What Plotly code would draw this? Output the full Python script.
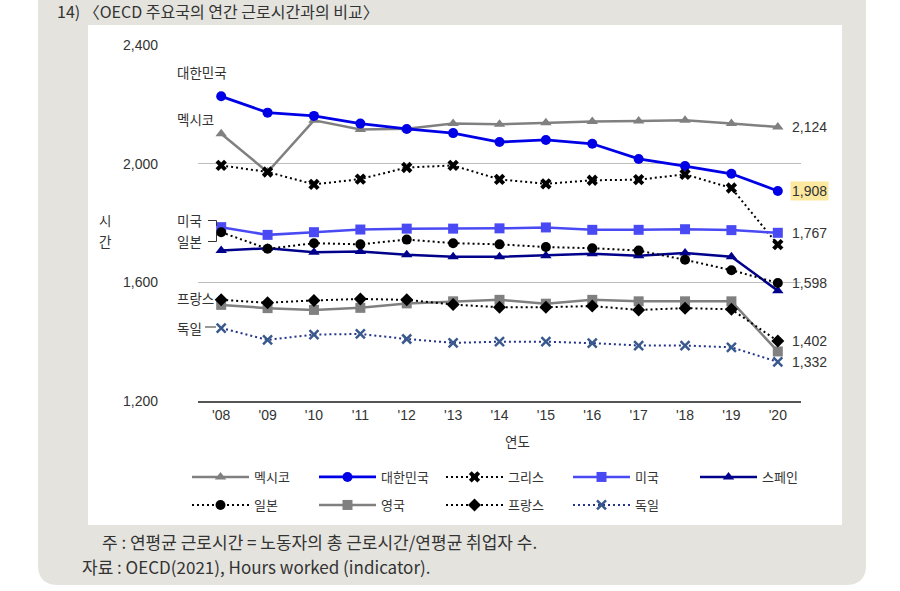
import plotly.graph_objects as go

# ---------------- data ----------------
years = ["'08", "'09", "'10", "'11", "'12", "'13", "'14", "'15", "'16", "'17", "'18", "'19", "'20"]
mexico = [2101, 1972, 2146, 2115, 2118, 2135, 2133, 2138, 2142, 2144, 2146, 2135, 2124]
korea = [2227, 2172, 2161, 2135, 2117, 2103, 2073, 2080, 2067, 2016, 1992, 1966, 1908]
greece = [1994, 1972, 1930, 1948, 1987, 1994, 1947, 1932, 1944, 1946, 1964, 1918, 1727]
usa = [1786, 1760, 1769, 1778, 1781, 1781, 1782, 1785, 1777, 1777, 1779, 1776, 1767]
spain = [1707, 1715, 1701, 1704, 1693, 1686, 1686, 1690, 1696, 1690, 1699, 1686, 1572]
japan = [1769, 1713, 1732, 1728, 1744, 1732, 1728, 1719, 1715, 1707, 1676, 1641, 1598]
uk = [1524, 1513, 1507, 1514, 1529, 1536, 1541, 1528, 1541, 1536, 1536, 1536, 1367]
france = [1541, 1531, 1539, 1544, 1541, 1525, 1516, 1516, 1520, 1507, 1513, 1509, 1402]
germany = [1446, 1406, 1424, 1426, 1409, 1396, 1400, 1400, 1395, 1387, 1387, 1381, 1332]

y_tickvals = [1200, 1600, 2000, 2400]
y_ticktext = ["1,200", "1,600", "2,000", "2,400"]

title_text = "14) 〈OECD 주요국의 연간 근로시간과의 비교〉"
x_title = "연도"
y_title_lines = ["시", "간"]
note_text = "주 : 연평균 근로시간 = 노동자의 총 근로시간/연평균 취업자 수."
source_text = "자료 : OECD(2021), Hours worked (indicator)."

# ---------------- layout geometry (pixels of the screenshot) ----------------
OFF = 0  # body margin is removed by the post script
W, H = 900, 591
PLOT_L, PLOT_R, PLOT_T, PLOT_B = 198, 801, 45, 401
L = PLOT_L - OFF
T = PLOT_T - OFF
R = W - (PLOT_R - OFF)
B = H - (PLOT_B - OFF)
PW, PH = W - L - R, H - T - B

def px(x):
    return (x - OFF - L) / PW

def py(y):
    return (H - B - (y - OFF)) / PH

KFONT = "Noto Sans CJK KR, Noto Sans, sans-serif"
NFONT = "Liberation Sans, Arial, sans-serif"
TXT = "#333333"

series = [
    # name, values, color, width, dash, symbol, msize, legend
    ("멕시코", mexico, "#808080", 2.5, "solid", "triangle-up", 10, "legend"),
    ("대한민국", korea, "#0000e6", 2.8, "solid", "circle", 10, "legend"),
    ("그리스", greece, "#000000", 2, "2px,3px", "x", 10, "legend"),
    ("미국", usa, "#4a4af5", 2.5, "solid", "square", 10, "legend"),
    ("스페인", spain, "#00008b", 2.5, "solid", "triangle-up", 10, "legend"),
    ("일본", japan, "#000000", 2, "2px,3px", "circle", 10, "legend2"),
    ("영국", uk, "#808080", 2.5, "solid", "square", 10, "legend2"),
    ("프랑스", france, "#000000", 2, "2px,3px", "diamond", 10, "legend2"),
    ("독일", germany, "#24348a", 2, "2px,3px", "x-thin-open", 9, "legend2"),
]

fig = go.Figure()
for name, vals, color, lw, dash, sym, ms, lg in series:
    if sym == "x-thin-open":
        marker = dict(symbol=sym, size=ms, color="#3a5a8e", line=dict(width=2.5, color="#3a5a8e"))
    else:
        marker = dict(symbol=sym, size=ms, color=color, line=dict(width=0))
    fig.add_trace(go.Scatter(
        x=years, y=vals, name=name, mode="lines+markers",
        line=dict(color=color, width=lw, dash=dash),
        marker=marker, legend=lg, hoverinfo="skip",
    ))

# ---------------- annotations ----------------
annotations = []
left_labels = [("대한민국", korea, 24), ("멕시코", mexico, 15), ("미국", usa, 7),
               ("일본", japan, -9), ("프랑스", france, 2), ("독일", germany, 0)]
for text, vals, ys in left_labels:
    annotations.append(dict(text=text, x=px(175), xref="paper", xanchor="left",
                            y=vals[0], yref="y", yanchor="middle", yshift=ys,
                            showarrow=False, font=dict(family=KFONT, size=13.5, color=TXT)))

right_labels = [(mexico, None), (korea, "#fde8a0"), (usa, None), (japan, None),
                (france, None), (germany, None)]
for vals, bg in right_labels:
    a = dict(text=f"{vals[-1]:,}", x=years[-1], xref="x", xanchor="left", xshift=12,
             y=vals[-1], yref="y", yanchor="middle", showarrow=False,
             font=dict(family=NFONT, size=14, color=TXT))
    if bg:
        a.update(bgcolor=bg, borderpad=1)
    annotations.append(a)

for txt, yy in zip(y_title_lines, [220, 241]):
    annotations.append(dict(text=txt, x=px(105), y=py(yy), xref="paper", yref="paper",
                            xanchor="center", yanchor="middle", showarrow=False,
                            font=dict(family=KFONT, size=13.5, color=TXT)))

annotations += [
    dict(text=title_text, x=px(55), y=py(11), xref="paper", yref="paper", xanchor="left",
         yanchor="middle", showarrow=False, font=dict(family=KFONT, size=16, color=TXT)),
    dict(text=x_title, x=px(517), y=py(441), xref="paper", yref="paper", xanchor="center",
         yanchor="middle", showarrow=False, font=dict(family=KFONT, size=13.5, color=TXT)),
    dict(text=note_text, x=px(100), y=py(541), xref="paper", yref="paper", xanchor="left",
         yanchor="middle", showarrow=False, font=dict(family=KFONT, size=17, color=TXT)),
    dict(text=source_text, x=px(80), y=py(566), xref="paper", yref="paper", xanchor="left",
         yanchor="middle", showarrow=False, font=dict(family=KFONT, size=17, color=TXT)),
]

# ---------------- background shapes ----------------
def rounded_bottom_rect(x0, y0, x1, y1, r):
    return ("M {a},{b} L {c},{b} L {c},{d} Q {c},{e} {f},{e} L {g},{e} Q {a},{e} {a},{d} Z"
            .format(a=px(x0), b=py(y0), c=px(x1), d=py(y1 - r), e=py(y1),
                    f=px(x1 - r), g=px(x0 + r)))

shapes = [
    dict(type="path", xref="paper", yref="paper", layer="below",
         path=rounded_bottom_rect(38, -10, 866, 585, 20),
         fillcolor="#e4e3de", line=dict(width=0)),
    dict(type="rect", xref="paper", yref="paper", layer="below",
         x0=px(88), x1=px(842), y0=py(25), y1=py(525),
         fillcolor="#ffffff", line=dict(width=0)),
    dict(type="path", xref="paper", yref="paper",
         path=f"M {px(208)},{py(220.5)} L {px(216.5)},{py(220.5)} L {px(216.5)},{py(226)}",
         line=dict(color=TXT, width=1)),
    dict(type="path", xref="paper", yref="paper",
         path=f"M {px(208)},{py(241.5)} L {px(216.5)},{py(241.5)} L {px(216.5)},{py(233)}",
         line=dict(color=TXT, width=1)),
    dict(type="line", xref="paper", yref="paper",
         x0=px(205), x1=px(216), y0=py(327), y1=py(327),
         line=dict(color=TXT, width=1)),
]

legend_common = dict(orientation="h", xanchor="left", yanchor="middle",
                     font=dict(family=KFONT, size=13, color=TXT),
                     itemwidth=57, entrywidth=55, entrywidthmode="pixels",
                     bgcolor="rgba(0,0,0,0)", traceorder="normal",
                     itemclick=False, itemdoubleclick=False)

fig.update_layout(
    width=W, height=H,
    margin=dict(l=L, r=R, t=T, b=B, autoexpand=False),
    paper_bgcolor="#ffffff", plot_bgcolor="rgba(0,0,0,0)",
    showlegend=True,
    legend=dict(legend_common, x=px(187), y=py(477)),
    legend2=dict(legend_common, x=px(187), y=py(505)),
    xaxis=dict(type="category", range=[-0.5, 12.5], showgrid=False, zeroline=False,
               showline=True, linecolor="#555555", linewidth=1.5, ticks="",
               tickfont=dict(family=NFONT, size=14, color=TXT), fixedrange=True),
    yaxis=dict(range=[1200, 2400], tickvals=y_tickvals, ticktext=y_ticktext,
               showgrid=True, gridcolor="#bdbdbd", gridwidth=1, zeroline=False,
               showline=False, ticks="", ticklabelstandoff=39,
               tickfont=dict(family=NFONT, size=14, color=TXT), fixedrange=True),
    annotations=annotations,
    shapes=shapes,
)

fig.write_html(
    "out.html",
    config={"displayModeBar": False},
    post_script="document.body.style.margin='0';document.body.style.overflow='hidden';",
)
